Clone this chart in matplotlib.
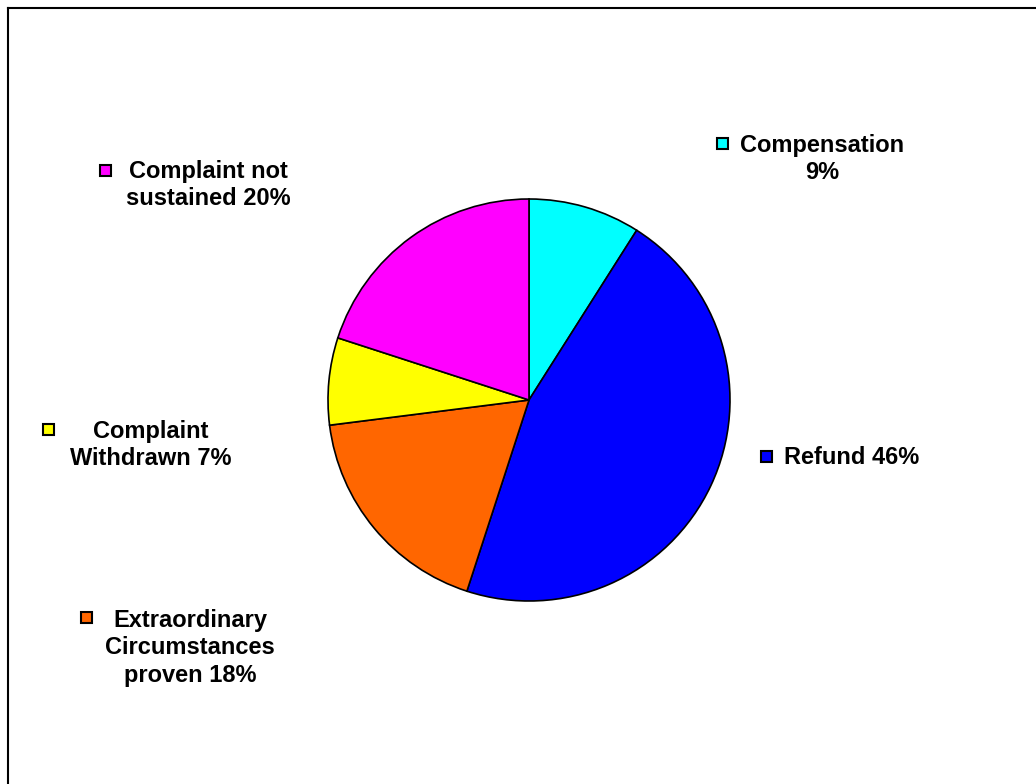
import matplotlib.pyplot as plt
from matplotlib.patches import Rectangle

labels = ["Compensation\n9%", "Refund 46%", "Extraordinary\nCircumstances\nproven 18%",
          "Complaint\nWithdrawn 7%", "Complaint not\nsustained 20%"]
values = [9, 46, 18, 7, 20]
colors = ["#00FFFF", "#0000FF", "#FF6600", "#FFFF00", "#FF00FF"]

W, H = 1036, 784
fig = plt.figure(figsize=(W / 100, H / 100), dpi=100)
ax = fig.add_axes([0, 0, 1, 1])
ax.set_xlim(0, W)
ax.set_ylim(0, H)
ax.set_aspect("equal")
ax.axis("off")

ax.pie(values, colors=colors, startangle=90, counterclock=False,
       center=(529, H - 400), radius=201,
       wedgeprops=dict(edgecolor="black", linewidth=1.2))
ax.set_xlim(0, W)
ax.set_ylim(0, H)

# label placement (pixel coords, y from top): text centre x, centre y, align, marker x, marker y
spots = [
    (822, 159, "center", 722, 143),
    (784, 457, "left", 766, 456),
    (190, 648, "center", 86, 617),
    (151, 445, "center", 48, 429),
    (208, 185, "center", 105, 170),
]
for lab, col, (tx, ty, al, mx, my) in zip(labels, colors, spots):
    ax.text(tx, H - ty, lab, ha=al, va="center", multialignment="center",
            fontsize=17, fontweight="bold", family="Liberation Sans",
            linespacing=1.27)
    ax.add_patch(Rectangle((mx - 5.5, H - my - 5.5), 11, 11, facecolor=col,
                           edgecolor="black", linewidth=1.5, clip_on=False))

# outer frame (only top and left edges fall inside the picture)
ax.plot([7.5, W], [H - 7.5, H - 7.5], color="black", linewidth=1.5, clip_on=False)
ax.plot([7.5, 7.5], [0, H - 7.5], color="black", linewidth=1.5, clip_on=False)

fig.savefig("out.png", dpi=100)
